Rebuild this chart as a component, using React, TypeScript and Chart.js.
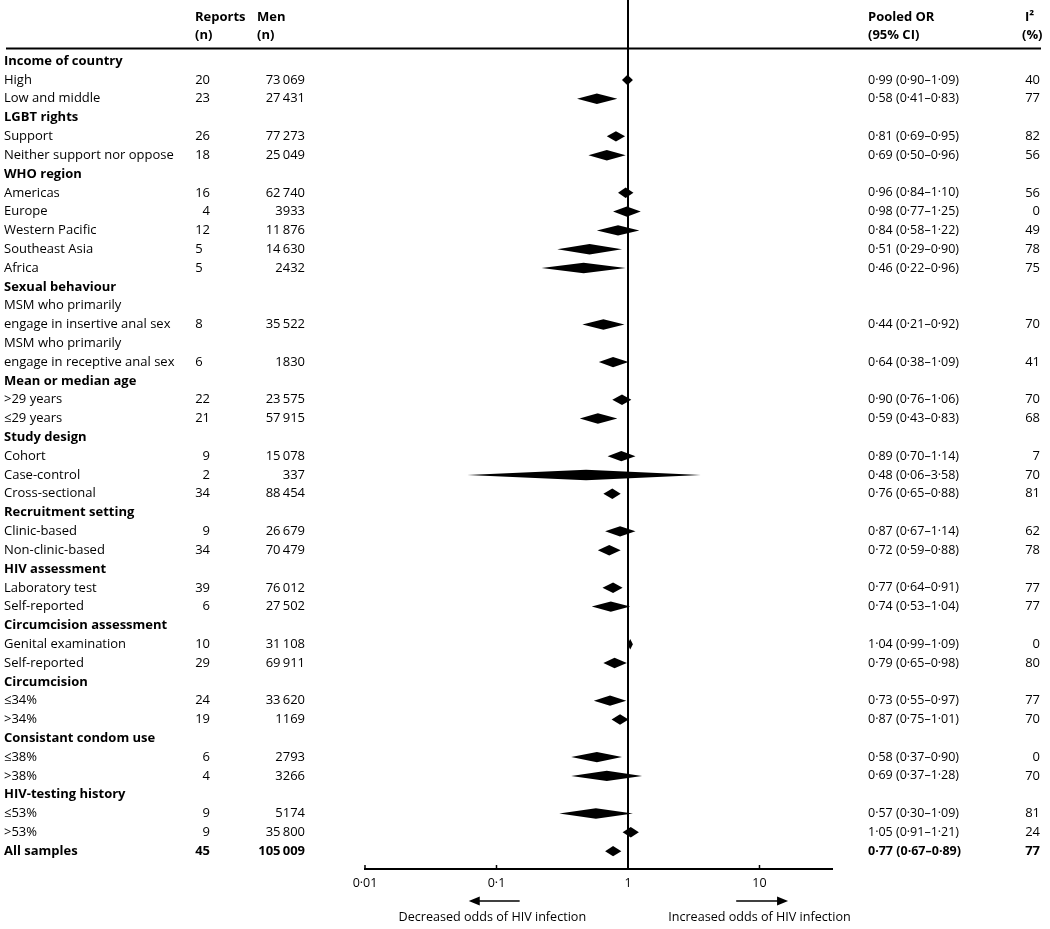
import React, { useEffect, useRef } from 'react';
import { Chart, registerables } from 'chart.js';

Chart.register(...registerables);

// ---------- data ----------
const rowLabels: string[] = [
  'Income of country', 'High', 'Low and middle',
  'LGBT rights', 'Support', 'Neither support nor oppose',
  'WHO region', 'Americas', 'Europe', 'Western Pacific', 'Southeast Asia', 'Africa',
  'Sexual behaviour', 'MSM who primarily', 'engage in insertive anal sex', 'MSM who primarily', 'engage in receptive anal sex',
  'Mean or median age', '>29 years', '\u226429 years',
  'Study design', 'Cohort', 'Case-control', 'Cross-sectional',
  'Recruitment setting', 'Clinic-based', 'Non-clinic-based',
  'HIV assessment', 'Laboratory test', 'Self-reported',
  'Circumcision assessment', 'Genital examination', 'Self-reported',
  'Circumcision', '\u226434%', '>34%',
  'Consistant condom use', '\u226438%', '>38%',
  'HIV-testing history', '\u226453%', '>53%',
  'All samples',
];
const boldRows: number[] = [0, 3, 6, 12, 17, 20, 24, 27, 30, 33, 36, 39, 42];

const reports: (number | null)[] = [
  null, 20, 23, null, 26, 18, null, 16, 4, 12, 5, 5, null, null, 8, null, 6,
  null, 22, 21, null, 9, 2, 34, null, 9, 34, null, 39, 6, null, 10, 29,
  null, 24, 19, null, 6, 4, null, 9, 9, 45,
];
const reportsLeftDigitRows: number[] = [10, 11, 14, 16];

const men: (number | null)[] = [
  null, 73069, 27431, null, 77273, 25049, null, 62740, 3933, 11876, 14630, 2432, null, null, 35522, null, 1830,
  null, 23575, 57915, null, 15078, 337, 88454, null, 26679, 70479, null, 76012, 27502, null, 31108, 69911,
  null, 33620, 1169, null, 2793, 3266, null, 5174, 35800, 105009,
];

const pooledText: (string | null)[] = [
  null, '0\u00b799 (0\u00b790\u20131\u00b709)', '0\u00b758 (0\u00b741\u20130\u00b783)',
  null, '0\u00b781 (0\u00b769\u20130\u00b795)', '0\u00b769 (0\u00b750\u20130\u00b796)',
  null, '0\u00b796 (0\u00b784\u20131\u00b710)', '0\u00b798 (0\u00b777\u20131\u00b725)', '0\u00b784 (0\u00b758\u20131\u00b722)',
  '0\u00b751 (0\u00b729\u20130\u00b790)', '0\u00b746 (0\u00b722\u20130\u00b796)',
  null, null, '0\u00b744 (0\u00b721\u20130\u00b792)', null, '0\u00b764 (0\u00b738\u20131\u00b709)',
  null, '0\u00b790 (0\u00b776\u20131\u00b706)', '0\u00b759 (0\u00b743\u20130\u00b783)',
  null, '0\u00b789 (0\u00b770\u20131\u00b714)', '0\u00b748 (0\u00b706\u20133\u00b758)', '0\u00b776 (0\u00b765\u20130\u00b788)',
  null, '0\u00b787 (0\u00b767\u20131\u00b714)', '0\u00b772 (0\u00b759\u20130\u00b788)',
  null, '0\u00b777 (0\u00b764\u20130\u00b791)', '0\u00b774 (0\u00b753\u20131\u00b704)',
  null, '1\u00b704 (0\u00b799\u20131\u00b709)', '0\u00b779 (0\u00b765\u20130\u00b798)',
  null, '0\u00b773 (0\u00b755\u20130\u00b797)', '0\u00b787 (0\u00b775\u20131\u00b701)',
  null, '0\u00b758 (0\u00b737\u20130\u00b790)', '0\u00b769 (0\u00b737\u20131\u00b728)',
  null, '0\u00b757 (0\u00b730\u20131\u00b709)', '1\u00b705 (0\u00b791\u20131\u00b721)',
  '0\u00b777 (0\u00b767\u20130\u00b789)',
];

const i2: (number | null)[] = [
  null, 40, 77, null, 82, 56, null, 56, 0, 49, 78, 75, null, null, 70, null, 41,
  null, 70, 68, null, 7, 70, 81, null, 62, 78, null, 77, 77, null, 0, 80,
  null, 77, 70, null, 0, 70, null, 81, 24, 77,
];

// diamonds as drawn (centre, lower, upper)
const diamondMid: (number | null)[] = [
  null, 0.99, 0.58, null, 0.81, 0.69, null, 0.96, 0.98, 0.84, 0.51, 0.46, null, null, 0.65, null, 0.77,
  null, 0.90, 0.59, null, 0.89, 0.48, 0.76, null, 0.87, 0.72, null, 0.77, 0.74, null, 1.04, 0.79,
  null, 0.73, 0.87, null, 0.58, 0.69, null, 0.57, 1.05, 0.77,
];
const diamondLow: (number | null)[] = [
  null, 0.90, 0.41, null, 0.69, 0.50, null, 0.84, 0.77, 0.58, 0.29, 0.22, null, null, 0.45, null, 0.60,
  null, 0.76, 0.43, null, 0.70, 0.06, 0.65, null, 0.67, 0.59, null, 0.64, 0.53, null, 0.99, 0.65,
  null, 0.55, 0.75, null, 0.37, 0.37, null, 0.30, 0.91, 0.67,
];
const diamondHigh: (number | null)[] = [
  null, 1.09, 0.83, null, 0.95, 0.96, null, 1.10, 1.25, 1.22, 0.90, 0.96, null, null, 0.94, null, 1.01,
  null, 1.06, 0.83, null, 1.14, 3.58, 0.88, null, 1.14, 0.88, null, 0.91, 1.04, null, 1.09, 0.98,
  null, 0.97, 1.01, null, 0.90, 1.28, null, 1.09, 1.21, 0.89,
];

const axisTicks: number[] = [0.01, 0.1, 1, 10];
const leftArrow: number[] = [0.15, 0.0615];
const rightArrow: number[] = [6.65, 16.5];
const arrowTexts: string[] = ['Decreased odds of HIV infection', 'Increased odds of HIV infection'];
const arrowTextAt: number[] = [0.093, 10];

// ---------- styling ----------
const FAMILY = '"Open Sans"';
const FS = 13;
const FS_NUM = 13;
const FS_OR = 12.5;

const fmtMen = (n: number) => {
  const s = String(n);
  if (n >= 10000) return s.slice(0, s.length - 3) + '\u2009' + s.slice(s.length - 3);
  return s;
};

const forestPlugin = {
  id: 'forest',
  afterDraw(chart: any) {
    const { ctx, chartArea, scales } = chart;
    const x = scales.x;
    const y = scales.y;
    ctx.save();
    ctx.fillStyle = '#000';
    ctx.strokeStyle = '#000';

    // vertical reference line at OR = 1
    const x1 = Math.round(x.getPixelForValue(1));
    ctx.lineWidth = 2;
    ctx.beginPath();
    ctx.moveTo(x1, chartArea.top);
    ctx.lineTo(x1, chartArea.bottom);
    ctx.stroke();

    // diamonds
    for (let i = 0; i < rowLabels.length; i++) {
      const m = diamondMid[i];
      if (m == null) continue;
      const cy = y.getPixelForValue(i);
      const xl = x.getPixelForValue(diamondLow[i] as number);
      const xm = x.getPixelForValue(m);
      const xh = x.getPixelForValue(diamondHigh[i] as number);
      ctx.beginPath();
      ctx.moveTo(xl, cy);
      ctx.lineTo(xm, cy - 5.2);
      ctx.lineTo(xh, cy);
      ctx.lineTo(xm, cy + 5.2);
      ctx.closePath();
      ctx.fill();
    }

    // upward tick marks on axis
    ctx.lineWidth = 1.5;
    for (const t of axisTicks) {
      const tx = x.getPixelForValue(t);
      ctx.beginPath();
      ctx.moveTo(tx, chartArea.bottom);
      ctx.lineTo(tx, chartArea.bottom - 4);
      ctx.stroke();
    }

    // header
    const hy1 = y.getPixelForValue(-2.34);
    const hy2 = y.getPixelForValue(-1.38);
    const ruleY = y.getPixelForValue(-0.665);
    ctx.font = `bold ${FS}px ${FAMILY}`;
    ctx.textBaseline = 'middle';
    ctx.textAlign = 'left';
    ctx.fillText('Reports', 195, hy1);
    ctx.fillText('(n)', 195, hy2);
    ctx.fillText('Men', 257, hy1);
    ctx.fillText('(n)', 257, hy2);
    ctx.fillText('Pooled OR', 868, hy1);
    ctx.fillText('(95% CI)', 868, hy2);
    ctx.fillText('I\u00b2', 1025, hy1);
    ctx.fillText('(%)', 1022, hy2);
    ctx.lineWidth = 2;
    ctx.beginPath();
    ctx.moveTo(6, ruleY);
    ctx.lineTo(1041, ruleY);
    ctx.stroke();

    // rows
    for (let i = 0; i < rowLabels.length; i++) {
      const cy = y.getPixelForValue(i);
      const bold = boldRows.includes(i);
      const w = bold ? 'bold ' : '';
      ctx.font = `${w}${FS}px ${FAMILY}`;
      ctx.textAlign = 'left';
      ctx.fillText(rowLabels[i], 4, cy);
      ctx.font = `${w}${FS_NUM}px ${FAMILY}`;
      const r = reports[i];
      if (r != null) {
        ctx.textAlign = 'right';
        ctx.fillText(String(r) + (reportsLeftDigitRows.includes(i) ? '\u2007' : ''), 210, cy);
      }
      const mn = men[i];
      if (mn != null) {
        ctx.textAlign = 'right';
        ctx.fillText(fmtMen(mn), 305, cy);
      }
      const q = i2[i];
      if (q != null) {
        ctx.textAlign = 'right';
        ctx.fillText(String(q), 1040, cy);
      }
      const p = pooledText[i];
      if (p != null) {
        ctx.font = `${w}${FS_OR}px ${FAMILY}`;
        ctx.textAlign = 'left';
        ctx.fillText(p, 868, cy);
      }
    }

    // arrows
    const ay = chartArea.bottom + 32;
    const drawArrow = (fromV: number, toV: number) => {
      const fx = x.getPixelForValue(fromV);
      const tx = x.getPixelForValue(toV);
      const dir = Math.sign(tx - fx);
      ctx.lineWidth = 1.5;
      ctx.beginPath();
      ctx.moveTo(fx, ay);
      ctx.lineTo(tx - dir * 8, ay);
      ctx.stroke();
      ctx.beginPath();
      ctx.moveTo(tx, ay);
      ctx.lineTo(tx - dir * 11, ay - 4.5);
      ctx.lineTo(tx - dir * 11, ay + 4.5);
      ctx.closePath();
      ctx.fill();
    };
    drawArrow(leftArrow[0], leftArrow[1]);
    drawArrow(rightArrow[0], rightArrow[1]);
    ctx.font = `12.6px ${FAMILY}`;
    ctx.textAlign = 'center';
    ctx.fillText(arrowTexts[0], x.getPixelForValue(arrowTextAt[0]), chartArea.bottom + 48);
    ctx.fillText(arrowTexts[1], x.getPixelForValue(arrowTextAt[1]), chartArea.bottom + 48);

    ctx.restore();
  },
};

export default function App() {
  const ref = useRef<HTMLCanvasElement | null>(null);
  useEffect(() => {
    if (!ref.current) return;
    const points = diamondMid
      .map((m, i) => (m == null ? null : { x: m, y: i }))
      .filter((p) => p != null);
    const chart = new Chart(ref.current, {
      type: 'scatter',
      data: { datasets: [{ data: points as any, pointRadius: 0, pointHoverRadius: 0 }] },
      options: {
        responsive: false,
        animation: false,
        events: [],
        layout: { padding: { left: 365, right: 218, top: 0, bottom: 0 } },
        plugins: { legend: { display: false }, tooltip: { enabled: false } },
        scales: {
          x: {
            type: 'logarithmic',
            min: 0.01,
            max: 35.6,
            bounds: 'data',
            grid: { display: false, drawTicks: false },
            border: { display: true, color: '#000', width: 2 },
            ticks: {
              color: '#000',
              font: { family: 'Open Sans', size: 12.5 },
              padding: 7,
              autoSkip: false,
              maxRotation: 0,
              callback: (v: any) => String(v).replace('.', '\u00b7'),
            },
            afterBuildTicks: (s: any) => {
              s.ticks = axisTicks.map((v) => ({ value: v }));
            },
            afterFit: (s: any) => {
              s.height = 60;
            },
          },
          y: { type: 'linear', display: false, reverse: true, min: -3.25, max: 42.95 },
        },
      } as any,
      plugins: [forestPlugin],
    });
    return () => chart.destroy();
  }, []);
  return (
    <div style={{ position: 'absolute', left: 0, top: 0, width: 1050, height: 929, background: '#fff' }}>
      <canvas ref={ref} width={1050} height={929} style={{ display: 'block' }} />
    </div>
  );
}
